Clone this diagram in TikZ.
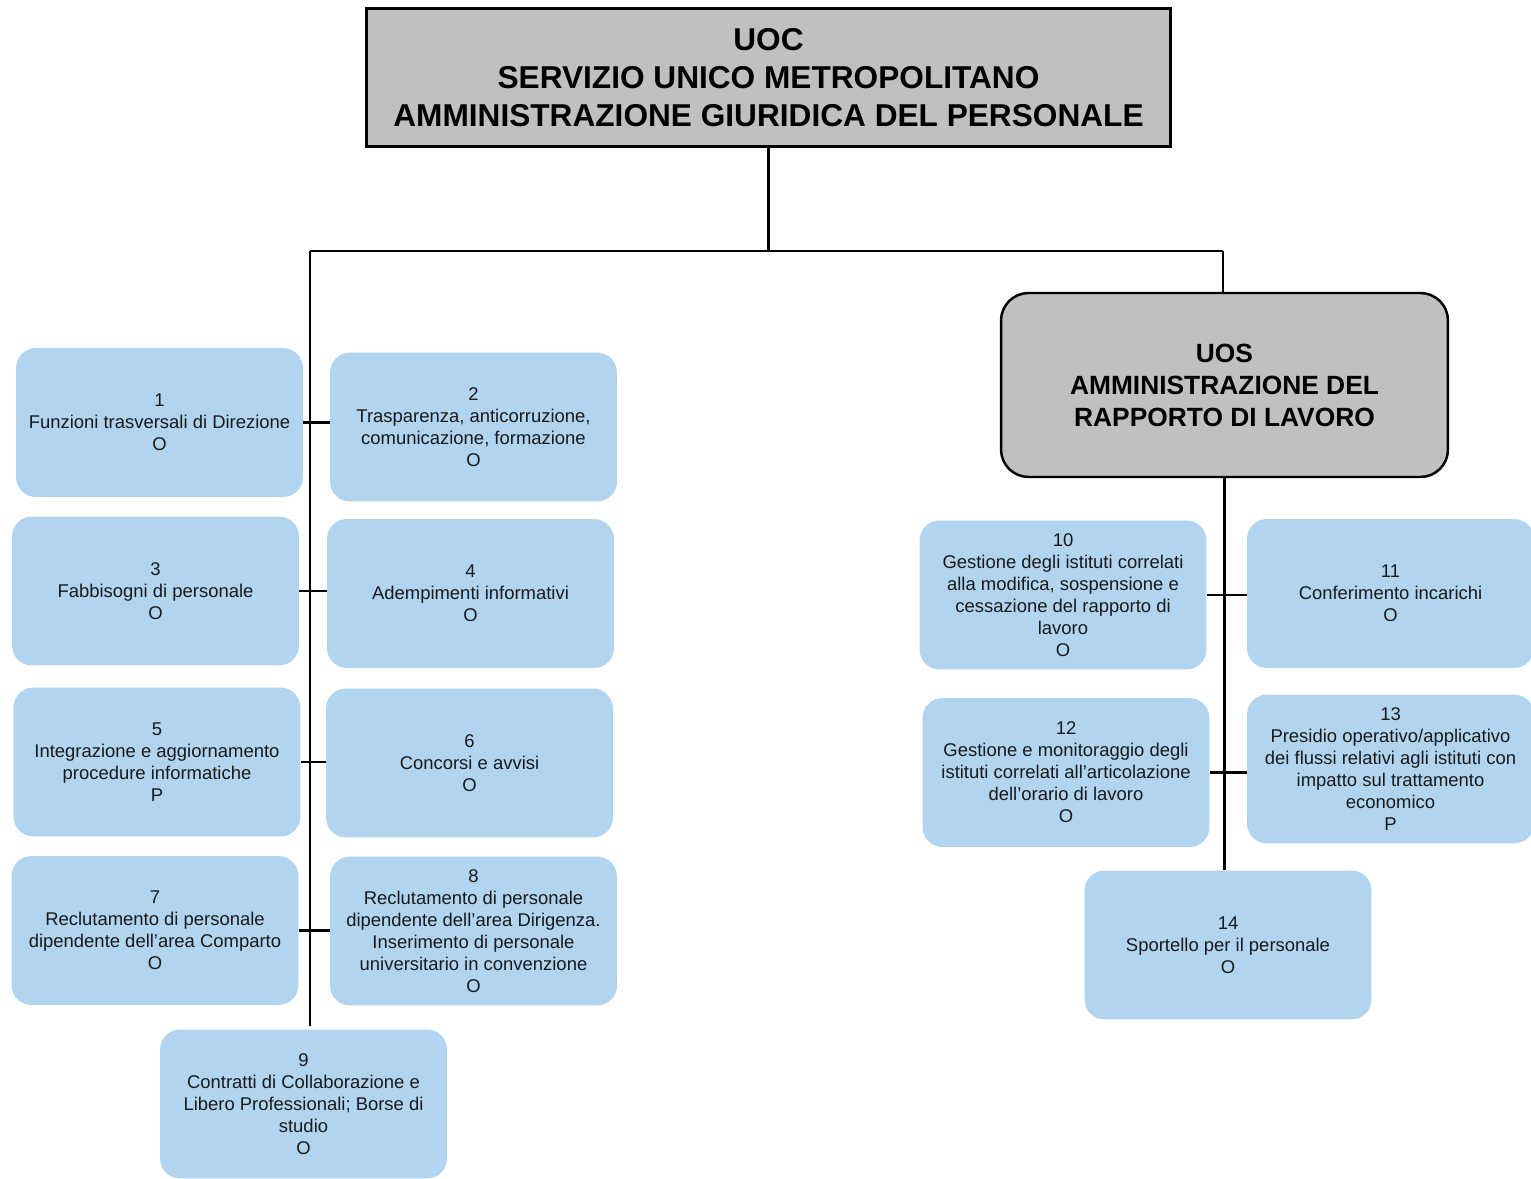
\documentclass[tikz,border=0pt]{standalone}
\usepackage{fontspec}
\setmainfont{Liberation Sans}
\definecolor{unitblue}{RGB}{177, 213, 240}
\definecolor{headgray}{RGB}{192, 192, 192}
\definecolor{txtdark}{RGB}{25, 25, 25}
\usetikzlibrary{positioning, calc}

\begin{document}
\begin{tikzpicture}[x=0.02cm, y=-0.02cm,
  unit/.style={fill=unitblue, rounded corners=0.4cm, minimum width=5.74cm,
               minimum height=2.98cm, inner sep=2pt, align=center, text=txtdark,
               font=\fontsize{10.5}{12.5}\selectfont},
  head/.style={draw, fill=headgray, align=center, font=\bfseries},
  link/.style={line width=1.5pt},
]
\useasboundingbox (0,0) rectangle (1531,1179);

% Top unit
\node[head, line width=1.7pt, minimum width=16.1cm, minimum height=2.78cm,
      font=\bfseries\fontsize{18}{21.6}\selectfont] (uoc) at (768.5, 77.5)
{UOC\\SERVIZIO UNICO METROPOLITANO\\AMMINISTRAZIONE GIURIDICA DEL PERSONALE};

\node[head, line width=1.4pt, rounded corners=0.55cm, minimum width=8.94cm,
      minimum height=3.68cm, font=\bfseries\fontsize{15}{18.2}\selectfont] (uos) at (1224.5, 385)
{UOS\\AMMINISTRAZIONE DEL\\RAPPORTO DI LAVORO};

% Left column
\node[unit] (b1) at (159.5, 422.5) {1\\Funzioni trasversali di Direzione\\O};
\node[unit] (b2) at (473.5, 427) {2\\Trasparenza, anticorruzione,\\comunicazione, formazione\\O};
\node[unit] (b3) at (155.5, 591) {3\\Fabbisogni di personale\\O};
\node[unit] (b4) at (470.5, 593.5) {4\\Adempimenti informativi\\O};
\node[unit] (b5) at (157, 762) {5\\Integrazione e aggiornamento\\procedure informatiche\\P};
\node[unit] (b6) at (469.5, 763) {6\\Concorsi e avvisi\\O};
\node[unit] (b7) at (155, 930.5) {7\\Reclutamento di personale\\dipendente dell’area Comparto\\O};
\node[unit] (b8) at (473.5, 931) {8\\Reclutamento di personale\\dipendente dell’area Dirigenza.\\Inserimento di personale\\universitario in convenzione\\O};
\node[unit] (b9) at (303.5, 1104) {9\\Contratti di Collaborazione e\\Libero Professionali; Borse di\\studio\\O};

% Right column
\node[unit] (b10) at (1063, 595) {10\\Gestione degli istituti correlati\\alla modifica, sospensione e\\cessazione del rapporto di\\lavoro\\O};
\node[unit] (b11) at (1390.5, 593.5) {11\\Conferimento incarichi\\O};
\node[unit] (b12) at (1066, 772.5) {12\\Gestione e monitoraggio degli\\istituti correlati all’articolazione\\dell’orario di lavoro\\O};
\node[unit] (b13) at (1390.5, 769) {13\\Presidio operativo/applicativo\\dei flussi relativi agli istituti con\\impatto sul trattamento\\economico\\P};
\node[unit] (b14) at (1228, 945) {14\\Sportello per il personale\\O};

% Connectors
\coordinate (jl) at (310, 251);
\coordinate (jr) at (1223, 251);
\draw[link] (uoc.south) -- (uoc.south |- jl);
\draw[link] (jl) -- (jr);
\draw[link] (jr) -- (jr |- uos.north);
\draw[link] (jl) -- ($(jl |- b9.north)+(0,-3)$);
\draw[link] (uos.south) -- (uos.south |- b14.north);

\foreach \a/\b in {b1/b2, b3/b4, b5/b6, b7/b8, b10/b11, b12/b13}
  \draw[link] (\a.east) -- (\a.east -| \b.west);
\end{tikzpicture}
\end{document}
